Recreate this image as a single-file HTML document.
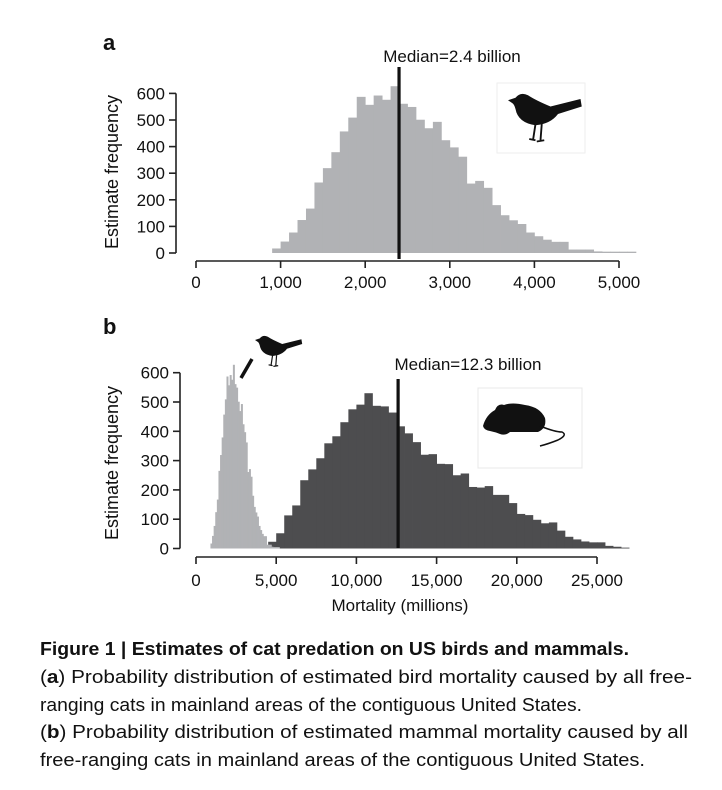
<!DOCTYPE html>
<html><head><meta charset="utf-8"><style>
html,body{margin:0;padding:0;background:#fff;}
svg{display:block;font-family:"Liberation Sans",sans-serif;}
</style></head><body>
<svg id="fig" width="722" height="790" viewBox="0 0 722 790">
<g id="pa"></g>
<g id="pb"></g>
<g font-size="18" fill="#111">
<text x="40" y="655" font-weight="bold" textLength="589" lengthAdjust="spacingAndGlyphs">Figure 1 | Estimates of cat predation on US birds and mammals.</text>
<text x="40" y="683" textLength="652" lengthAdjust="spacingAndGlyphs">(<tspan font-weight="bold">a</tspan>) Probability distribution of estimated bird mortality caused by all free-</text>
<text x="40" y="711" textLength="542" lengthAdjust="spacingAndGlyphs">ranging cats in mainland areas of the contiguous United States.</text>
<text x="40" y="738" textLength="648" lengthAdjust="spacingAndGlyphs">(<tspan font-weight="bold">b</tspan>) Probability distribution of estimated mammal mortality caused by all</text>
<text x="40" y="766" textLength="605" lengthAdjust="spacingAndGlyphs">free-ranging cats in mainland areas of the contiguous United States.</text>
</g>
</svg>
<script>
// ---- data ----
const birdStart = 900;
const birdBinWidth = 100;
const birdCounts = [17,43,77,124,167,265,319,379,457,509,587,557,592,576,627,561,549,501,469,493,424,397,362,261,271,245,180,142,123,109,77,63,50,42,42,13,13,13,6,5,5,5,5];
const mammalStart = 4000;
const mammalBinWidth = 500;
const mammalCounts = [8,23,52,113,147,233,270,308,359,383,431,475,491,530,487,485,464,417,393,363,320,322,289,288,250,256,210,208,213,183,183,155,118,114,98,86,89,61,40,31,24,21,21,9,6,3];
const birdMedianPos = 2400;
const mammalMedianPos = 12600;
const yTicks = [0,100,200,300,400,500,600];
const xTicksA = [0,1000,2000,3000,4000,5000];
const xTicksB = [0,5000,10000,15000,20000,25000];
const xTickLabelsA = ["0","1,000","2,000","3,000","4,000","5,000"];
const xTickLabelsB = ["0","5,000","10,000","15,000","20,000","25,000"];

const NS = "http://www.w3.org/2000/svg";
function mk(parent, tag, attrs){const e=document.createElementNS(NS,tag);for(const k in attrs)e.setAttribute(k,attrs[k]);parent.appendChild(e);return e;}

const xA = v => 196 + v*0.0846;
const yA = v => 253 - v*0.266;
const xB = v => 196 + v*0.01604;
const yB = v => 548.5 - v*0.293;

function histogram(g, start, w, counts, xf, yf, color, name){
  counts.forEach((c,i)=>{
    const x0=xf(start+i*w), x1=xf(start+(i+1)*w);
    const r=mk(g,'rect',{x:x0,y:yf(c),width:(x1-x0)+0.4,height:yf(0)-yf(c),fill:color});
    
    
  });
}
function yAxis(g, ax, yf){
  mk(g,'line',{x1:ax,y1:yf(600),x2:ax,y2:yf(0),stroke:'#222','stroke-width':1.6});
  yTicks.forEach(t=>{
    mk(g,'line',{x1:ax-7,y1:yf(t),x2:ax,y2:yf(t),stroke:'#222','stroke-width':1.6});
    const tx=mk(g,'text',{x:ax-11,y:yf(t)+6,'text-anchor':'end','font-size':17,fill:'#111'});
    tx.textContent=t;
    
    
  });
}
function xAxis(g, ay, xf, ticks, labels, ly){
  mk(g,'line',{x1:xf(ticks[0]),y1:ay,x2:xf(ticks[ticks.length-1]),y2:ay,stroke:'#222','stroke-width':1.6});
  ticks.forEach((t,i)=>{
    mk(g,'line',{x1:xf(t),y1:ay,x2:xf(t),y2:ay+7,stroke:'#222','stroke-width':1.6});
    const tx=mk(g,'text',{x:xf(t),y:ly,'text-anchor':'middle','font-size':17,fill:'#111'});
    tx.textContent=labels[i];
    
    
  });
}
function bird(g, tx, ty, s){
  const b=mk(g,'g',{transform:`translate(${tx},${ty}) scale(${s})`});
  
  
  mk(b,'path',{d:'M0,5 L6,3 Q10,-2 16,1 Q22,5 34,10 L58,4 L59,10 L40,16 Q34,24 22,25 Q8,23 6,12 Q5,8 3,7 Z',fill:'#111'});
  mk(b,'path',{d:'M22,24 L20,37 M27,24 L26,37 M17,36 L22,37 M23,38 L29,37',stroke:'#111','stroke-width':1.5,fill:'none'});
}

// ---- panel a ----
const pa=document.getElementById('pa');
let t=mk(pa,'text',{x:103,y:50,'font-size':22,'font-weight':'bold',fill:'#111'});t.textContent='a';


histogram(pa,birdStart,birdBinWidth,birdCounts,xA,yA,'#b1b2b5','bird-a');
mk(pa,'line',{x1:xA(birdMedianPos),y1:67,x2:xA(birdMedianPos),y2:259,stroke:'#111','stroke-width':3.2});
t=mk(pa,'text',{x:452,y:62,'text-anchor':'middle','font-size':17,fill:'#111'});t.textContent='Median=2.4 billion';


yAxis(pa,176,yA);
xAxis(pa,261,xA,xTicksA,xTickLabelsA,288);
t=mk(pa,'text',{x:0,y:0,'text-anchor':'middle','font-size':18,fill:'#111',transform:'translate(118,172) rotate(-90)'});t.textContent='Estimate frequency';


mk(pa,'rect',{x:497,y:83,width:88,height:70,fill:'none',stroke:'#eee','stroke-width':1});
bird(pa,508,94,1.25);

// ---- panel b ----
const pb=document.getElementById('pb');
t=mk(pb,'text',{x:103,y:334,'font-size':22,'font-weight':'bold',fill:'#111'});t.textContent='b';


histogram(pb,mammalStart,mammalBinWidth,mammalCounts,xB,yB,'#4d4d4f','mammal');
histogram(pb,birdStart,birdBinWidth,birdCounts,xB,yB,'#b1b2b5','bird-b');
mk(pb,'line',{x1:xB(mammalMedianPos),y1:379,x2:xB(mammalMedianPos),y2:548,stroke:'#111','stroke-width':3.2});
t=mk(pb,'text',{x:468,y:370,'text-anchor':'middle','font-size':17,fill:'#111'});t.textContent='Median=12.3 billion';


yAxis(pb,180,yB);
xAxis(pb,557,xB,xTicksB,xTickLabelsB,586);
t=mk(pb,'text',{x:400,y:611,'text-anchor':'middle','font-size':17,fill:'#111'});t.textContent='Mortality (millions)';


t=mk(pb,'text',{x:0,y:0,'text-anchor':'middle','font-size':18,fill:'#111',transform:'translate(118,463) rotate(-90)'});t.textContent='Estimate frequency';


mk(pb,'line',{x1:241,y1:378,x2:252,y2:359,stroke:'#111','stroke-width':3.5});
bird(pb,255,336,0.8);
mk(pb,'rect',{x:478,y:388,width:104,height:80,fill:'none',stroke:'#e8e8e8','stroke-width':1});
const m=mk(pb,'g',{});


mk(m,'path',{d:'M483,426 Q486,415 495,410 Q498,403 504,405 Q512,402 525,405 Q540,407 545,418 Q547,428 538,432 L510,432 Q505,436 500,434 Q495,432 490,431 Q484,430 483,426 Z',fill:'#111'});
mk(m,'path',{d:'M540,426 Q555,432 562,432 Q568,435 558,440 Q548,444 540,446',stroke:'#111','stroke-width':1.5,fill:'none'});
</script>
</body></html>
